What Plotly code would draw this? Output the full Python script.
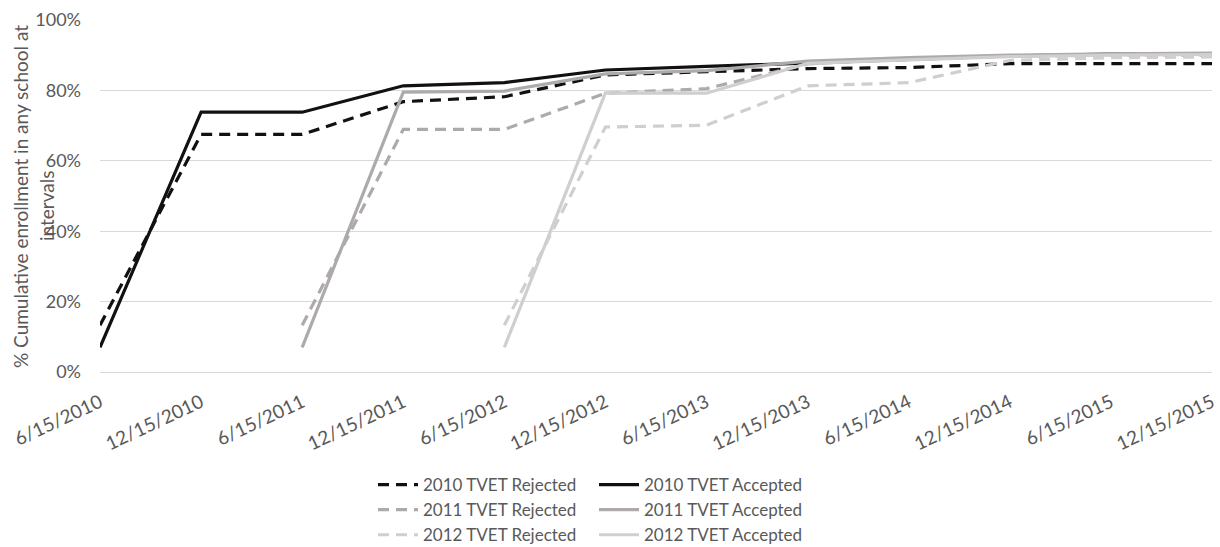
import plotly.graph_objects as go

# Survey dates (category axis)
dates = ["6/15/2010", "12/15/2010", "6/15/2011", "12/15/2011", "6/15/2012", "12/15/2012",
         "6/15/2013", "12/15/2013", "6/15/2014", "12/15/2014", "6/15/2015", "12/15/2015"]

# Cumulative enrollment shares (fraction of cohort)
rej_2010 = [0.133, 0.675, 0.675, 0.768, 0.782, 0.844, 0.853, 0.862, 0.865, 0.876, 0.876, 0.876]
acc_2010 = [0.070, 0.738, 0.738, 0.813, 0.822, 0.858, 0.868, 0.878, 0.886, 0.898, 0.903, 0.904]
rej_2011 = [None, None, 0.133, 0.689, 0.689, 0.792, 0.805, 0.875, 0.890, 0.897, 0.900, 0.900]
acc_2011 = [None, None, 0.070, 0.795, 0.798, 0.847, 0.856, 0.883, 0.893, 0.900, 0.904, 0.906]
rej_2012 = [None, None, None, None, 0.133, 0.696, 0.701, 0.813, 0.822, 0.885, 0.893, 0.895]
acc_2012 = [None, None, None, None, 0.070, 0.793, 0.792, 0.877, 0.887, 0.896, 0.900, 0.902]

series = [
    ("2010 TVET Rejected", rej_2010, "#111111", True, "legend"),
    ("2010 TVET Accepted", acc_2010, "#111111", False, "legend2"),
    ("2011 TVET Rejected", rej_2011, "#aeaaaa", True, "legend"),
    ("2011 TVET Accepted", acc_2011, "#aeaaaa", False, "legend2"),
    ("2012 TVET Rejected", rej_2012, "#d0cece", True, "legend"),
    ("2012 TVET Accepted", acc_2012, "#d0cece", False, "legend2"),
]

FONT = "Lato"
TXT = "#595959"

fig = go.Figure()
for name, vals, color, dashed, leg in series:
    fig.add_trace(go.Scatter(
        x=dates, y=vals, name=name, mode="lines",
        line=dict(color=color, width=3.2, dash="11px,7px" if dashed else "solid"),
        legend=leg, connectgaps=False,
    ))

W, H = 1220, 547
ML, MR, MT, MB = 100, 8, 20, 175
pw = W - ML - MR
ph = H - MT - MB

def px_x(p):
    return (p - ML) / pw

def px_y(p):
    return (H - MB - p) / ph

legend_common = dict(
    orientation="v", xanchor="left", yanchor="top",
    bgcolor="rgba(0,0,0,0)", borderwidth=0,
    font=dict(family=FONT, size=17, color=TXT),
    itemwidth=40, tracegroupgap=0,
)

fig.update_layout(
    width=W, height=H,
    margin=dict(l=ML, r=MR, t=MT, b=MB, autoexpand=False),
    paper_bgcolor="white", plot_bgcolor="white",
    font=dict(family=FONT, size=17, color=TXT),
    showlegend=True,
    legend=dict(x=px_x(373), y=px_y(467), **legend_common),
    legend2=dict(x=px_x(594), y=px_y(467), **legend_common),
    xaxis=dict(
        type="category", range=[0, 11], showgrid=False, zeroline=False,
        showline=False, ticks="", tickangle=-25, automargin=False,
        tickfont=dict(family=FONT, size=19, color=TXT),
        ticklabelstandoff=15,
    ),
    yaxis=dict(
        range=[0, 1], dtick=0.2, tickformat=".0%", automargin=False,
        showgrid=True, gridcolor="#d9d9d9", gridwidth=1.3,
        zeroline=True, zerolinecolor="#d9d9d9", zerolinewidth=1.3,
        showline=False, ticks="",
        tickfont=dict(family=FONT, size=18, color=TXT),
        ticklabelstandoff=18,
    ),
    annotations=[
        dict(text="% Cumulative enrollment in any school at", xref="paper", yref="paper",
             x=0, y=px_y(197), xshift=20 - ML, xanchor="center", yanchor="middle",
             textangle=-90, showarrow=False,
             font=dict(family=FONT, size=19, color=TXT)),
        dict(text="intervals", xref="paper", yref="paper",
             x=0, y=px_y(206), xshift=47 - ML, xanchor="center", yanchor="middle",
             textangle=-90, showarrow=False,
             font=dict(family=FONT, size=19, color=TXT)),
    ],
)

fig.write_html("out.html")
